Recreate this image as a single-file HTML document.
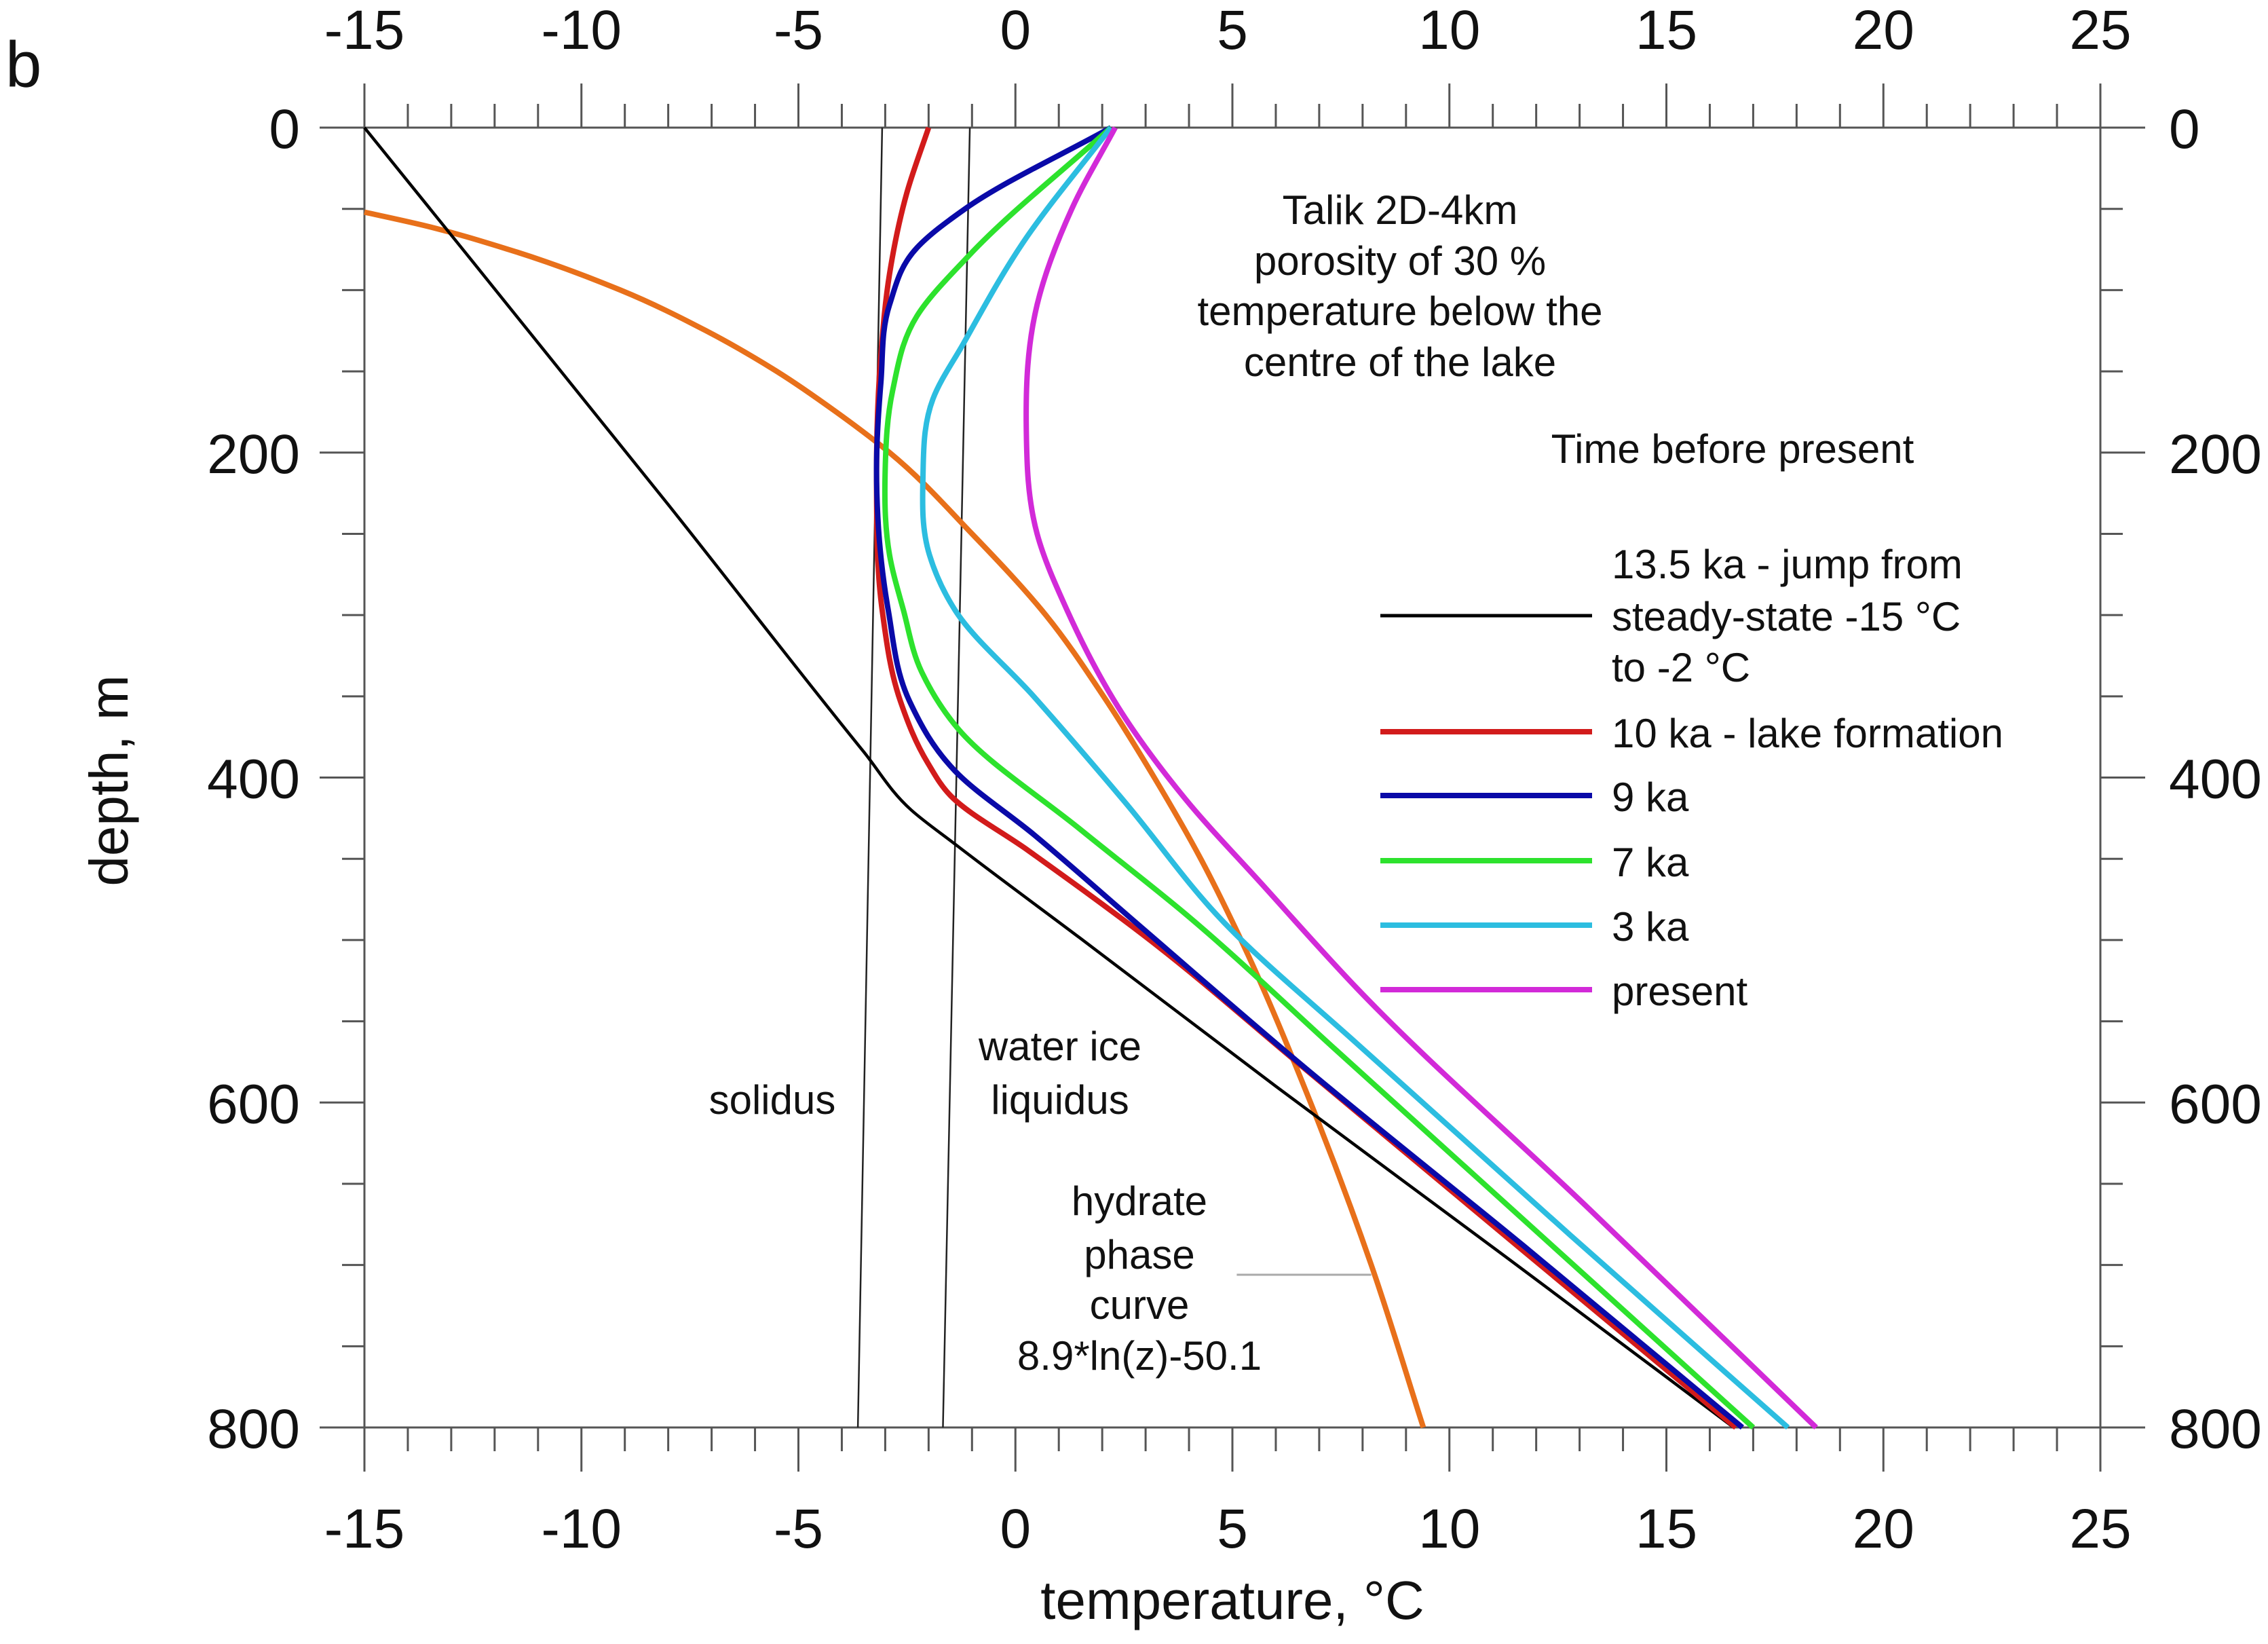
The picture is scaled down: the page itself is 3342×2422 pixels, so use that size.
<!DOCTYPE html>
<html><head><meta charset="utf-8"><style>
html,body{margin:0;padding:0;background:#fff;}
svg{display:block;}
text{font-family:"Liberation Sans",Arial,sans-serif;fill:#111;}
</style></head><body>
<svg id="chart" width="3342" height="2422" viewBox="0 0 3342 2422" xmlns="http://www.w3.org/2000/svg">
<text x="8" y="128" font-size="96">b</text>
<g id="axes"></g>
<g id="series"></g>
<g font-size="60" text-anchor="middle">
<text x="2063" y="330">Talik 2D-4km</text>
<text x="2063" y="405">porosity of 30 %</text>
<text x="2063" y="479">temperature below the</text>
<text x="2063" y="554">centre of the lake</text>
<text x="2553" y="682">Time before present</text>
</g>
<g font-size="60">
<line x1="2034" y1="907" x2="2346" y2="907" stroke="#000" stroke-width="5"/>
<text x="2375" y="852">13.5 ka - jump from</text>
<text x="2375" y="929">steady-state -15 °C</text>
<text x="2375" y="1004">to -2 °C</text>
<line x1="2034" y1="1078" x2="2346" y2="1078" stroke="#d21b1b" stroke-width="8"/>
<text x="2375" y="1101">10 ka - lake formation</text>
<line x1="2034" y1="1172" x2="2346" y2="1172" stroke="#0a0aa8" stroke-width="8"/>
<text x="2375" y="1195">9 ka</text>
<line x1="2034" y1="1268" x2="2346" y2="1268" stroke="#2de22d" stroke-width="8"/>
<text x="2375" y="1291">7 ka</text>
<line x1="2034" y1="1363" x2="2346" y2="1363" stroke="#2cbde0" stroke-width="8"/>
<text x="2375" y="1386">3 ka</text>
<line x1="2034" y1="1458" x2="2346" y2="1458" stroke="#d22ad8" stroke-width="8"/>
<text x="2375" y="1481">present</text>
</g>
<g font-size="60" text-anchor="middle">
<text x="1138" y="1641">solidus</text>
<text x="1562" y="1562">water ice</text>
<text x="1562" y="1641">liquidus</text>
<text x="1679" y="1790">hydrate</text>
<text x="1679" y="1869">phase</text>
<text x="1679" y="1943">curve</text>
<text x="1679" y="2018">8.9*ln(z)-50.1</text>
</g>
<text x="1816" y="2385" font-size="80" text-anchor="middle">temperature, °C</text>
<text x="0" y="0" font-size="80" text-anchor="middle" transform="translate(188,1150) rotate(-90)">depth, m</text>
</svg>
<script>
const xTicks = [-15,-10,-5,0,5,10,15,20,25];
const yTicks = [0,200,400,600,800];
const s135T = [-15,-8,-3.5,-2.4,-1.39,1.5,6.0,11.3,16.55];
const s135D = [0,232,384,420,441,499,590,695,800];
const s10T = [-2.0,-2.5,-2.9,-3.1,-3.2,-3.07,-2.65,-2.02,-1.5,0.3,3.05,6.57,11.6,16.6];
const s10D = [0,40,90,140,218,297,353,391,411,445,499,577,689,800];
const s9T = [2.2,-1.16,-2.27,-2.9,-3.1,-3.2,-2.93,-2.44,-1.39,0.42,2.85,6.6,11.7,16.75];
const s9D = [0,50,74,109,157,210,297,353,396,435,491,577,688,800];
const s7T = [2.2,-1.08,-2.27,-2.83,-3.0,-2.9,-2.58,-2.16,-1.32,1.5,3.92,7.4,12.2,17.0];
const s7D = [0,79,116,162,210,263,297,335,370,432,484,568,684,800];
const s3T = [2.2,0.17,-1.2,-1.9,-2.13,-1.98,-1.39,0.42,2.52,4.8,7.88,12.8,17.8];
const s3D = [0,71,133,167,215,263,297,350,415,489,564,682,800];
const sPT = [2.3,1.3,0.5,0.25,0.5,1.19,2.52,3.91,5.66,7.88,13.2,18.45];
const sPD = [0,50,109,184,250,297,363,413,465,530,665,800];
const hydT = [-15,-13.66,-11.68,-9.1,-7.13,-5.5,-4.13,-2.9,-1.0,0.7,2.03,3.2,4.27,5.2,6.8,8.2,9.4];
const hydD = [52,60,75,100,125,150,175,200,250,300,350,400,450,500,600,700,800];
const solidusT = [-3.07,-3.63];
const liquidusT = [-1.05,-1.67];
const phaseD = [0,800];

const X0=537,X1=3095,Y0=188,Y1=2103;
const xs = t => X0 + (t+15)/40*(X1-X0);
const ys = d => Y0 + d/800*(Y1-Y0);
const NS='http://www.w3.org/2000/svg';
const axes=document.getElementById('axes');
const series=document.getElementById('series');
function mk(tag,attrs,parent){const e=document.createElementNS(NS,tag);for(const k in attrs)e.setAttribute(k,attrs[k]);parent.appendChild(e);return e;}

const fr=mk('rect',{x:X0,y:Y0,width:X1-X0,height:Y1-Y0,fill:'none',stroke:'#555',"stroke-width":3},axes);


for(let t=-15;t<=25;t++){
  const maj=(t%5===0), L=maj?65:35;
  const a=mk('line',{x1:xs(t),x2:xs(t),y1:Y0,y2:Y0-L,stroke:'#555',"stroke-width":3},axes);
  
  
  const b=mk('line',{x1:xs(t),x2:xs(t),y1:Y1,y2:Y1+L,stroke:'#555',"stroke-width":3},axes);
  
  
}
xTicks.forEach(t=>{
  const a=mk('text',{x:xs(t),y:72,"font-size":82,"text-anchor":"middle"},axes);a.textContent=t;
  
  
  const b=mk('text',{x:xs(t),y:2280,"font-size":82,"text-anchor":"middle"},axes);b.textContent=t;
  
  
});
for(let d=0;d<=800;d+=50){
  const maj=(d%200===0), L=maj?66:33;
  const a=mk('line',{x1:X0,x2:X0-L,y1:ys(d),y2:ys(d),stroke:'#555',"stroke-width":3},axes);
  
  
  const b=mk('line',{x1:X1,x2:X1+L,y1:ys(d),y2:ys(d),stroke:'#555',"stroke-width":3},axes);
  
  
}
yTicks.forEach(d=>{
  const a=mk('text',{x:442,y:ys(d)+30,"font-size":82,"text-anchor":"end"},axes);a.textContent=d;
  
  
  const b=mk('text',{x:3196,y:ys(d)+30,"font-size":82},axes);b.textContent=d;
  
  
});

function smooth(T,D){
  const n=T.length, m=new Array(n);
  for(let i=0;i<n;i++){
    if(i===0) m[i]=(T[1]-T[0])/(D[1]-D[0]);
    else if(i===n-1) m[i]=(T[n-1]-T[n-2])/(D[n-1]-D[n-2]);
    else{
      const h0=D[i]-D[i-1], h1=D[i+1]-D[i];
      const s0=(T[i]-T[i-1])/h0, s1=(T[i+1]-T[i])/h1;
      m[i]=(h1*s0+h0*s1)/(h0+h1);
    }
  }
  let s='M'+xs(T[0])+','+ys(D[0]);
  for(let i=0;i<n-1;i++){
    const h=D[i+1]-D[i];
    const c1t=T[i]+m[i]*h/3, c1d=D[i]+h/3;
    const c2t=T[i+1]-m[i+1]*h/3, c2d=D[i+1]-h/3;
    s+=' C'+xs(c1t)+','+ys(c1d)+' '+xs(c2t)+','+ys(c2d)+' '+xs(T[i+1])+','+ys(D[i+1]);
  }
  return s;
}
function poly(T,D){return 'M'+T.map((t,i)=>xs(t)+','+ys(D[i])).join(' L');}

const sol=mk('path',{d:poly(solidusT,phaseD),stroke:'#222',"stroke-width":2.5,fill:'none'},series);


const liq=mk('path',{d:poly(liquidusT,phaseD),stroke:'#222',"stroke-width":2.5,fill:'none'},series);


const lead=mk('line',{x1:xs(5.1),x2:xs(8.2),y1:ys(706),y2:ys(706),stroke:'#aaa',"stroke-width":3},series);



const hyd=mk('path',{d:smooth(hydT,hydD),stroke:'#e8701a',"stroke-width":8,fill:'none'},series);


const k=mk('path',{d:smooth(s135T,s135D),stroke:'#000',"stroke-width":4.5,fill:'none'},series);


const defs=[[s10T,s10D,'#d21b1b','series-10ka'],[s9T,s9D,'#0a0aa8','series-9ka'],[s7T,s7D,'#2de22d','series-7ka'],[s3T,s3D,'#2cbde0','series-3ka'],[sPT,sPD,'#d22ad8','series-present']];
defs.forEach(([T,D,c,n])=>{
  const e=mk('path',{d:smooth(T,D),stroke:c,"stroke-width":8,fill:'none',"stroke-linejoin":"round"},series);
  
  
});
</script>
</body></html>
